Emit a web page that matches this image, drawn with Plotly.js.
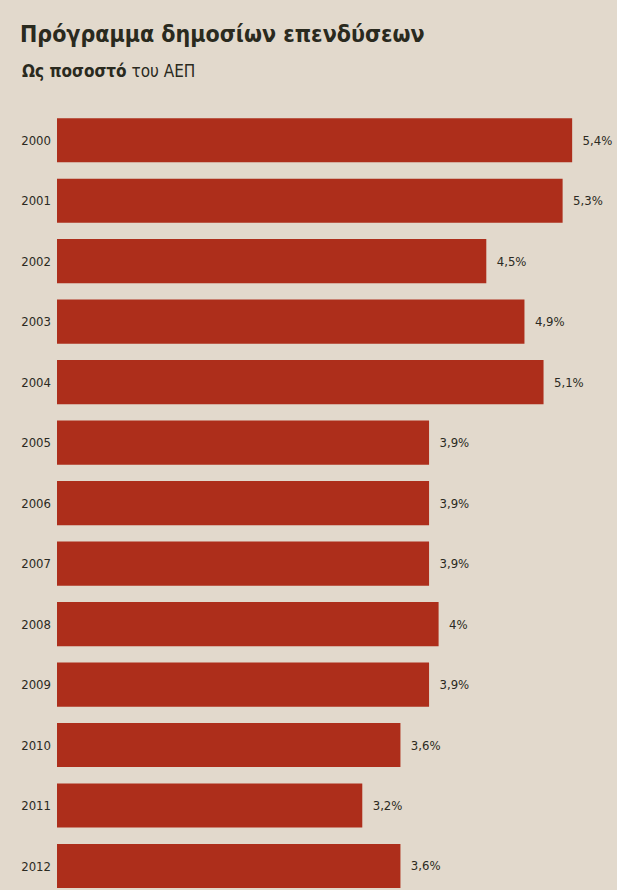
<!DOCTYPE html>
<html>
<head>
<meta charset="utf-8">
<script src="https://cdn.plot.ly/plotly-3.0.1.min.js"></script>
<style>
html,body{margin:0;padding:0;background:#e2d9cc;}
#chart{width:617px;height:890px;}
</style>
</head>
<body>
<div id="chart"></div>
<script>
const years = ["2000","2001","2002","2003","2004","2005","2006","2007","2008","2009","2010","2011","2012"];
const values = [5.4, 5.3, 4.5, 4.9, 5.1, 3.9, 3.9, 3.9, 4, 3.9, 3.6, 3.2, 3.6];
const labels = ["5,4%","5,3%","4,5%","4,9%","5,1%","3,9%","3,9%","3,9%","4%","3,9%","3,6%","3,2%","3,6%"];

const font = "'Liberation Sans Narrow', 'DejaVu Sans Condensed', 'Open Sans', sans-serif";

const trace = {
  type: 'bar',
  orientation: 'h',
  x: values,
  y: years,
  text: labels.map(t => '  ' + t),
  textposition: 'outside',
  cliponaxis: false,
  textfont: {family: font, size: 13, color: '#2b2a22'},
  marker: {color: '#ad2e1b', line: {width: 0}},
  hoverinfo: 'none'
};

const layout = {
  width: 617,
  height: 890,
  paper_bgcolor: '#e2d9cc',
  plot_bgcolor: 'rgba(0,0,0,0)',
  margin: {l: 57, r: 0, t: 110, b: 0},
  bargap: 0.27,
  showlegend: false,
  font: {family: font, color: '#2b2a22'},
  title: {
    text: '<b>Πρόγραμμα δημοσίων επενδύσεων</b>',
    x: 20/617, xanchor: 'left', xref: 'container',
    y: 0.962, yanchor: 'middle', yref: 'container',
    font: {family: font, size: 23, color: '#2a2a1e'}
  },
  annotations: [{
    text: '<b>Ως ποσοστό</b> του ΑΕΠ',
    xref: 'paper', yref: 'paper', x: -37/560, y: 1.05,
    xanchor: 'left', yanchor: 'middle', showarrow: false,
    font: {family: font, size: 17, color: '#2a2a1e'}
  }],
  xaxis: {
    range: [0, 5.87],
    showgrid: false, zeroline: false, showticklabels: false, showline: false, ticks: ''
  },
  yaxis: {
    type: 'category',
    range: [12.397, -0.5],
    showgrid: false, zeroline: false, showline: false, ticks: '',
    ticklabelstandoff: 5,
    tickfont: {family: font, size: 13, color: '#2b2a22'}
  }
};

Plotly.newPlot('chart', [trace], layout, {displayModeBar: false, staticPlot: true});
</script>
</body>
</html>
